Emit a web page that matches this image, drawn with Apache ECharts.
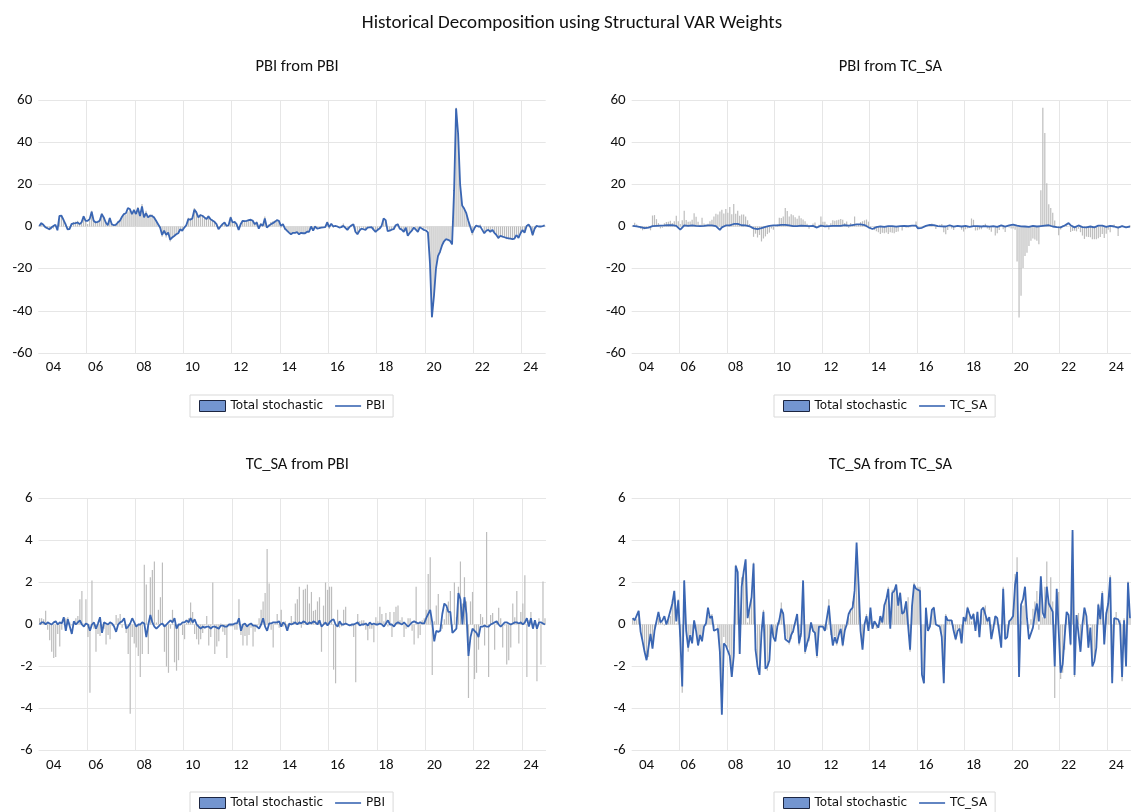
<!DOCTYPE html>
<html><head><meta charset="utf-8">
<script src="https://cdn.jsdelivr.net/npm/echarts@6/dist/echarts.min.js"></script>
<style>html,body{margin:0;padding:0;background:#fff}#chart{width:1131px;height:812px}</style>
</head><body><div id="chart"></div>
<script>
// Monthly categories 2004m1 .. 2024m12
const startYear = 2004, endYear = 2024;
const months = [];
for (let y = startYear; y <= endYear; y++) for (let m = 1; m <= 12; m++) months.push(y + '-' + (m < 10 ? '0' + m : m));

// PBI: total stochastic (bars, panels 1 and 2)
const totalPBI = [
 0.5,1.8,0.9,-0.3,-1.1,-1.8,-1.3,-1.0,0.3,-1.8,5.2,5.4,
 3.5,1.6,-0.9,-0.6,1.6,2.1,2.3,2.7,1.7,2.5,5.1,2.5,
 1.2,3.0,7.5,3.1,2.2,2.4,3.2,6.3,4.6,2.2,0.8,4.2,
 1.4,1.0,1.3,2.5,3.2,4.8,6.1,5.7,7.1,7.9,6.2,8.3,
 6.5,9.2,5.8,10.7,6.0,7.5,5.1,5.7,5.7,4.8,3.0,1.2,
 -0.8,-4.9,-3.4,-5.2,-4.0,-7.1,-5.7,-4.7,-3.6,-2.9,-0.9,-1.5,
 0.1,1.1,4.1,4.0,4.7,8.8,7.4,4.8,5.8,5.3,4.4,3.7,
 5.1,3.9,3.3,2.5,1.3,-1.1,0.4,1.4,1.9,-0.2,0.8,4.7,
 2.2,2.3,1.1,-1.4,1.5,3.0,2.7,3.0,3.2,3.5,3.2,1.7,
 2.4,-0.6,1.7,1.0,4.7,0.5,1.1,2.1,2.5,2.9,3.3,2.3,
 -0.6,-0.1,-1.7,-2.3,-2.7,-3.6,-3.0,-3.2,-2.8,-3.5,-2.7,-3.0,
 -3.2,-2.6,-2.4,0.2,-1.9,0.3,-0.6,-0.6,-0.4,0.0,0.2,2.4,
 -1.2,0.0,-0.6,0.4,0.3,0.0,0.5,1.4,0.1,-1.2,-0.1,0.8,
 1.2,-2.7,-3.7,-1.7,-0.4,-1.0,-1.7,-0.4,-0.1,-0.1,-1.5,-2.4,
 -1.3,-0.9,0.1,3.8,3.2,-1.9,-1.8,-1.4,-1.3,0.7,1.3,-0.9,
 -1.6,-2.5,-0.3,-4.3,-3.2,-1.7,0.0,-1.3,-2.6,-0.1,-0.5,-1.0,
 -1.0,-1.5,-16.6,-43.2,-32.9,-19.7,-14.0,-12.4,-9.2,-6.8,-5.7,-6.2,
 -6.8,-8.4,17.2,56.3,44.4,20.5,10.6,8.8,6.5,2.8,-0.3,-4.1,
 -1.4,0.5,0.5,0.9,0.0,-2.6,-2.1,-2.0,-2.3,-1.1,-2.7,-4.3,
 -5.9,-4.8,-5.0,-5.1,-6.0,-6.0,-6.0,-5.6,-5.0,-3.6,-5.4,-3.4,
 -1.5,-2.7,0.7,1.0,-0.8,-4.5,-0.7,0.5,0.0,-0.4,0.0,0.5
];
// PBI from PBI shock (line, panel 1)
const pbiFromPBI = [
 0.2,1.6,0.8,-0.3,-0.8,-1.3,-0.5,0.2,0.8,-1.8,5.0,5.1,
 3.2,1.1,-1.3,-1.2,1.1,1.5,1.6,1.9,1.1,2.0,4.8,2.7,
 2.7,3.5,7.0,2.7,1.9,2.2,2.7,5.9,4.3,1.9,0.6,4.0,
 1.1,0.6,0.8,1.9,2.7,4.5,5.9,6.3,8.7,8.3,5.9,7.8,
 5.9,8.7,5.0,9.5,4.3,6.3,4.3,5.1,5.0,4.3,2.7,1.1,
 -0.5,-4.0,-2.0,-4.0,-2.9,-6.3,-5.2,-4.5,-3.7,-3.2,-1.3,-2.0,
 -0.5,0.6,3.5,3.2,3.8,8.0,6.7,4.3,5.4,5.1,4.3,3.5,
 4.8,3.5,2.8,2.2,1.1,-1.3,0.0,1.1,1.9,0.3,0.6,4.3,
 1.9,2.2,1.1,-1.6,1.1,2.7,2.5,2.7,3.0,3.2,2.7,1.1,
 1.9,-1.0,1.1,0.3,3.8,-0.5,0.3,1.1,1.6,2.2,3.0,2.7,
 0.3,1.1,-1.0,-2.0,-2.9,-3.7,-3.0,-3.0,-2.7,-3.7,-3.0,-3.2,
 -3.2,-2.5,-2.5,0.0,-2.0,0.0,-1.0,-0.8,-0.5,-0.4,-0.3,2.0,
 -0.3,1.3,0.0,0.3,0.0,-0.5,-0.3,0.3,-0.6,-1.6,-0.3,0.5,
 1.1,-2.5,-3.7,-2.0,-1.0,-1.3,-1.6,-0.5,-0.4,-0.3,-1.5,-2.5,
 -1.6,-1.0,0.3,3.8,3.0,-2.2,-2.0,-1.5,-1.3,0.6,1.1,-1.0,
 -1.5,-2.5,-0.5,-4.4,-3.0,-2.0,-0.5,-1.5,-2.5,-0.3,-1.0,-1.6,
 -1.9,-2.8,-17.0,-43.0,-33.0,-20.0,-14.0,-12.0,-9.0,-7.0,-6.0,-6.3,
 -6.8,-8.5,17.0,56.0,44.0,20.0,10.0,8.5,6.5,3.0,0.0,-3.0,
 -1.0,0.5,0.0,0.0,-1.6,-3.2,-2.0,-1.6,-2.5,-1.6,-3.0,-4.0,
 -5.4,-4.4,-4.8,-5.1,-5.4,-5.6,-5.8,-6.0,-5.7,-4.0,-5.4,-3.2,
 -1.7,-3.0,0.2,1.0,-0.5,-4.0,-1.0,0.3,0.0,0.0,0.2,0.5
];
// PBI from TC_SA shock (line, panel 2)
const pbiFromTC = [
 0.3,0.2,0.1,0.0,-0.3,-0.5,-0.8,-1.2,-0.5,0.0,0.2,0.3,
 0.3,0.5,0.4,0.6,0.5,0.6,0.7,0.8,0.6,0.5,0.3,-0.2,
 -1.5,-0.5,0.5,0.4,0.3,0.2,0.5,0.4,0.3,0.3,0.2,0.2,
 0.3,0.4,0.5,0.6,0.5,0.3,0.2,-0.6,-1.6,-0.4,0.3,0.5,
 0.6,0.5,0.8,1.2,1.7,1.2,0.8,0.6,0.7,0.5,0.3,0.1,
 -0.3,-0.9,-1.4,-1.2,-1.1,-0.8,-0.5,-0.2,0.1,0.3,0.4,0.5,
 0.6,0.5,0.6,0.8,0.9,0.8,0.7,0.5,0.4,0.2,0.1,0.2,
 0.3,0.4,0.5,0.3,0.2,0.2,0.4,0.3,0.0,-0.5,0.2,0.4,
 0.3,0.1,0.0,0.2,0.4,0.3,0.2,0.3,0.2,0.3,0.5,0.6,
 0.5,0.4,0.6,0.7,0.9,1.0,0.8,1.0,0.9,0.7,0.3,-0.4,
 -0.9,-1.2,-0.7,-0.3,0.2,0.1,0.0,-0.2,-0.1,0.2,0.3,0.2,
 0.0,-0.1,0.1,0.2,0.1,0.3,0.4,0.2,0.1,0.4,0.5,0.4,
 -0.9,-1.3,-0.6,0.1,0.3,0.5,0.8,1.1,0.7,0.4,0.2,0.3,
 0.1,-0.2,0.0,0.3,0.6,0.3,-0.1,0.1,0.3,0.2,0.0,0.1,
 0.3,0.1,-0.2,0.0,0.2,0.3,0.2,0.1,0.0,0.1,0.2,0.1,
 -0.1,0.0,0.2,0.1,-0.2,0.3,0.5,0.2,-0.1,0.2,0.5,0.6,
 0.9,1.3,0.4,-0.2,0.1,0.3,0.0,-0.4,-0.2,0.2,0.3,0.1,
 0.0,0.1,0.2,0.3,0.4,0.5,0.6,0.3,0.0,-0.2,-0.3,-1.1,
 -0.4,0.0,0.5,0.9,1.6,0.6,-0.1,-0.4,0.2,0.5,0.3,-0.3,
 -0.5,-0.4,-0.2,0.0,-0.6,-0.4,-0.2,0.4,0.7,0.4,0.0,-0.2,
 0.2,0.3,0.5,0.0,-0.3,-0.5,0.3,0.2,0.0,-0.4,-0.2,0.0
];
// TC_SA: total stochastic (bars, panels 3 and 4)
const totalTC = [
 0.3,0.3,0.25,0.65,-0.25,-0.75,-1.3,-1.6,-1.55,-0.45,-1.05,-0.25,
 0.0,0.3,0.35,0.1,-0.05,0.15,0.3,0.4,1.2,1.6,0.05,1.2,
 -0.6,-3.25,2.1,-0.2,-1.3,-0.45,-0.55,-0.2,-0.2,-0.95,-0.5,-0.7,
 -0.05,-0.05,0.45,0.3,0.5,-0.15,0.0,-0.4,-1.4,-4.25,-0.6,-0.9,
 -1.1,-1.5,-2.5,-1.4,2.85,1.9,-1.4,2.25,2.6,3.0,0.1,0.7,
 1.3,2.95,-1.3,-2.0,-2.3,-0.2,0.7,-1.8,-2.2,-1.7,0.0,-0.5,
 -0.7,0.1,0.3,1.05,0.6,-0.45,-0.7,-0.95,-0.7,-0.4,-0.05,0.4,
 -1.0,-0.6,2.0,-1.4,-1.05,-0.8,0.05,-0.35,-0.5,-1.6,-0.1,-0.1,
 -0.1,-0.25,-0.25,1.2,-0.5,-1.0,-0.55,-1.0,-0.5,-0.15,-1.05,-0.35,
 -0.1,0.3,0.7,1.1,1.5,3.6,1.95,-0.25,-1.1,0.1,0.5,-0.15,
 0.7,-0.1,0.15,-0.2,-0.1,0.4,0.15,1.0,1.2,1.8,-0.15,1.65,
 1.7,1.9,1.0,1.55,0.65,0.7,1.1,1.3,-1.3,0.9,2.0,1.65,
 1.8,1.8,-2.15,-2.8,0.7,-0.15,-0.1,0.7,0.85,0.0,-0.05,-0.1,
 -0.6,-2.75,0.5,0.15,0.2,0.2,-0.25,-0.75,-0.2,-0.2,-0.85,0.35,
 0.15,0.85,0.5,0.15,0.55,-0.1,0.6,-0.6,0.6,0.85,0.9,0.2,
 0.35,-0.6,-0.2,0.3,0.3,-0.3,-0.95,1.8,-0.65,-0.5,0.2,0.3,
 0.7,2.4,3.2,-2.4,0.15,0.9,1.45,0.0,-0.2,0.25,0.75,1.1,
 1.6,-0.25,2.0,0.35,1.8,3.0,1.0,2.25,1.1,-3.5,1.1,1.55,
 -2.6,-2.3,-1.2,0.5,0.35,-1.0,4.4,-2.5,0.45,0.55,-1.2,0.15,
 0.8,0.3,-1.1,-0.05,-1.9,-1.7,-1.1,1.0,0.35,1.6,-0.9,0.6,
 1.0,2.35,-2.5,0.2,0.6,0.05,0.2,-2.7,0.3,-1.9,2.05,0.3
];
// TC_SA from PBI shock (line, panel 3)
const tcFromPBI = [
 0.0,0.1,0.1,0.0,0.1,0.05,0.0,0.1,0.15,0.0,0.1,0.05,
 0.35,-0.3,0.25,-0.1,-0.45,0.15,0.0,0.1,0.2,0.0,-0.1,0.05,
 0.0,-0.3,0.0,0.1,-0.2,0.05,0.35,-0.4,0.1,0.05,0.0,0.1,
 0.05,-0.1,-0.35,0.0,0.1,0.15,0.3,-0.2,-0.1,0.05,0.3,0.1,
 -0.1,0.0,0.0,0.1,0.05,-0.6,0.0,0.45,0.1,-0.1,-0.2,-0.1,
 0.0,0.05,-0.1,0.0,0.1,0.2,0.1,0.3,-0.2,0.0,0.0,0.1,
 0.1,0.2,0.1,0.3,0.1,0.25,0.0,-0.1,-0.2,-0.1,-0.15,-0.1,
 -0.1,-0.2,-0.1,-0.1,-0.15,-0.2,-0.05,-0.05,-0.1,-0.1,0.0,0.0,
 0.0,0.05,0.05,0.3,-0.3,0.0,0.05,-0.1,0.0,0.05,-0.05,-0.05,
 -0.1,-0.2,0.0,0.3,-0.1,-0.3,0.05,0.05,0.1,0.1,0.1,0.15,
 -0.1,0.1,0.0,-0.3,0.05,0.0,0.05,0.1,0.0,0.1,0.05,0.15,
 0.1,0.0,0.1,0.05,0.15,0.1,0.0,0.2,-0.1,0.0,0.1,-0.05,
 0.1,0.2,0.25,0.0,-0.1,0.15,0.0,0.0,0.05,0.0,-0.05,0.0,
 0.0,0.05,0.1,-0.05,0.0,0.0,0.05,-0.05,0.1,0.0,0.05,0.0,
 0.0,0.05,0.0,-0.1,0.05,0.2,0.0,0.0,-0.1,0.05,0.1,0.05,
 0.0,0.1,0.0,-0.1,0.0,0.1,0.15,0.1,0.05,0.1,0.05,0.05,
 0.3,0.5,0.7,0.1,-0.8,-0.3,-0.35,-0.3,0.5,1.0,0.9,0.6,
 0.6,-0.4,-0.3,-0.2,1.5,1.2,0.0,1.3,0.5,-1.5,-0.6,-0.2,
 -0.3,-0.4,-0.6,-0.1,-0.1,-0.05,-0.1,-0.1,0.0,0.05,0.1,0.15,
 0.0,-0.1,0.0,0.1,0.1,0.05,0.0,0.05,0.1,0.1,0.05,0.1,
 0.0,0.1,0.3,-0.1,0.3,-0.2,0.2,-0.2,0.1,0.1,0.05,0.0
];
// TC_SA from TC_SA shock (line, panel 4)
const tcFromTC = [
 0.3,0.2,0.15,0.65,-0.35,-0.8,-1.3,-1.7,-1.7,-0.45,-1.15,-0.3,
 -0.35,0.6,0.1,0.2,0.4,0.0,0.3,0.3,1.0,1.6,0.15,1.15,
 -0.6,-2.95,2.1,-0.3,-1.1,-0.5,-0.9,0.2,-0.3,-1.0,-0.5,-0.8,
 -0.1,0.05,0.8,0.3,0.4,-0.3,-0.3,-0.2,-1.3,-4.3,-0.9,-1.0,
 -1.0,-1.5,-2.5,-1.5,2.8,2.5,-1.4,1.8,2.5,3.1,0.3,0.8,
 1.3,2.9,-1.2,-2.0,-2.4,-0.4,0.6,-2.1,-2.0,-1.7,0.0,-0.6,
 -0.8,-0.1,0.2,0.75,0.5,-0.7,-0.7,-0.85,-0.5,-0.3,0.1,0.5,
 -0.9,-0.4,2.1,-1.3,-0.9,-0.6,0.1,-0.3,-0.4,-1.5,-0.1,-0.1,
 -0.1,-0.3,-0.3,0.9,-0.2,-1.0,-0.6,-0.9,-0.5,-0.2,-1.0,-0.3,
 0.0,0.5,0.7,0.8,1.6,3.9,1.9,-0.3,-1.2,0.0,0.4,-0.3,
 0.8,-0.2,0.15,0.1,-0.15,0.4,0.1,0.9,1.2,1.7,-0.2,1.5,
 1.6,1.9,0.9,1.5,0.5,0.6,1.1,1.1,-1.2,0.9,1.9,1.7,
 1.7,1.6,-2.4,-2.8,0.8,-0.3,-0.1,0.7,0.8,0.0,0.0,-0.1,
 -0.6,-2.8,0.4,0.2,0.2,0.2,-0.3,-0.7,-0.3,-0.2,-0.9,0.35,
 0.15,0.8,0.5,0.25,0.5,-0.3,0.6,-0.6,0.7,0.8,0.8,0.15,
 0.35,-0.7,-0.2,0.4,0.3,-0.4,-1.1,1.7,-0.7,-0.6,0.15,0.25,
 0.4,1.9,2.5,-2.5,0.95,1.2,1.8,0.3,-0.7,-0.75,-0.15,0.5,
 1.0,0.15,2.3,0.55,0.3,1.8,1.0,0.95,0.6,-2.0,1.7,1.75,
 -2.3,-1.9,-0.6,0.6,0.45,-0.95,4.5,-2.4,0.45,0.5,-1.3,0.0,
 0.8,0.4,-1.1,-0.15,-2.0,-1.75,-1.1,0.95,0.25,1.5,-0.95,0.5,
 1.0,2.25,-2.8,0.3,0.3,0.25,0.0,-2.5,0.2,-2.0,2.0,0.3
];

const mainTitle = 'Historical Decomposition using Structural VAR Weights';
const panelTitles = ['PBI from PBI', 'PBI from TC_SA', 'TC_SA from PBI', 'TC_SA from TC_SA'];
const lineNames = ['PBI', 'TC_SA', 'PBI', 'TC_SA'];
const barName = 'Total stochastic';
const barData = [totalPBI, totalPBI, totalTC, totalTC];
const lineData = [pbiFromPBI, pbiFromTC, tcFromPBI, tcFromTC];
const yRanges = [[-60, 60, 20], [-60, 60, 20], [-6, 6, 2], [-6, 6, 2]];

// layout
const grids = [
  {left: 38.3, top: 100, width: 507.4, height: 253},
  {left: 631.7, top: 100, width: 507.4, height: 253},
  {left: 38.6, top: 498.5, width: 507.4, height: 252},
  {left: 631.7, top: 498.5, width: 507.4, height: 252}
];
const legendPos = [[190, 395], [774, 395], [190, 792], [774, 792]];

const FONT = 'Carlito, Lato, sans-serif';
const BLUE = '#3a66b3';
const GRID_C = '#e6e6e6';

const option = {
  animation: false,
  backgroundColor: '#ffffff',
  title: [{
    text: mainTitle, left: 567, top: 9, textAlign: 'center',
    textStyle: {fontFamily: FONT, fontSize: 19, fontWeight: 'normal', color: '#111'}
  }].concat(panelTitles.map((t, i) => ({
    text: t, left: grids[i].left + grids[i].width / 2, top: i < 2 ? 53 : 451, textAlign: 'center',
    textStyle: {fontFamily: FONT, fontSize: 16.5, fontWeight: 'normal', color: '#111'}
  }))),
  legend: legendPos.map((p, i) => ({
    left: p[0], top: p[1], orient: 'horizontal', selectedMode: false,
    borderColor: '#d9d9d9', borderWidth: 1, padding: [5, 8, 5, 9],
    itemWidth: 26, itemHeight: 11, itemGap: 12,
    textStyle: {fontFamily: 'DejaVu Sans', fontSize: 12, color: '#111'},
    data: [
      {name: barName, icon: 'rect', itemStyle: {color: '#7395d0', borderColor: '#1c2540', borderWidth: 1}},
      {name: lineNames[i], icon: 'path://M0,0H26V1.6H0Z', itemStyle: {color: BLUE, borderWidth: 0}}
    ]
  })),
  grid: grids.map(g => Object.assign({}, g)),
  xAxis: grids.map((g, i) => ({
    type: 'category', gridIndex: i, data: months, boundaryGap: true,
    axisLine: {show: false}, axisTick: {show: false},
    axisLabel: {
      interval: (idx) => idx === 7 || (idx >= 24 && idx % 24 === 4),
      formatter: (v) => v.slice(2, 4),
      margin: 7, fontFamily: FONT, fontSize: 15, color: '#111'
    },
    splitLine: {show: true, interval: (idx) => idx > 0 && idx % 24 === 0, showMinLine: true, showMaxLine: false,
      lineStyle: {color: GRID_C, width: 1}}
  })),
  yAxis: grids.map((g, i) => ({
    type: 'value', gridIndex: i, min: yRanges[i][0], max: yRanges[i][1], interval: yRanges[i][2],
    axisLine: {show: false}, axisTick: {show: false},
    axisLabel: {margin: 6, fontFamily: FONT, fontSize: 15, color: '#111'},
    splitLine: {show: true, lineStyle: {color: GRID_C, width: 1}}
  })),
  series: []
};
for (let i = 0; i < 4; i++) {
  option.series.push({
    name: barName, type: 'bar', xAxisIndex: i, yAxisIndex: i, data: barData[i],
    barWidth: 1.2, itemStyle: {color: '#bdbdbd'}, z: 2, silent: true
  });
  option.series.push({
    name: lineNames[i], type: 'line', xAxisIndex: i, yAxisIndex: i, data: lineData[i],
    symbol: 'none', showSymbol: false, lineStyle: {color: BLUE, width: 1.8}, itemStyle: {color: BLUE},
    z: 3, silent: true
  });
}
const chart = echarts.init(document.getElementById('chart'), null, {renderer: 'canvas'});
chart.setOption(option);
</script></body></html>
